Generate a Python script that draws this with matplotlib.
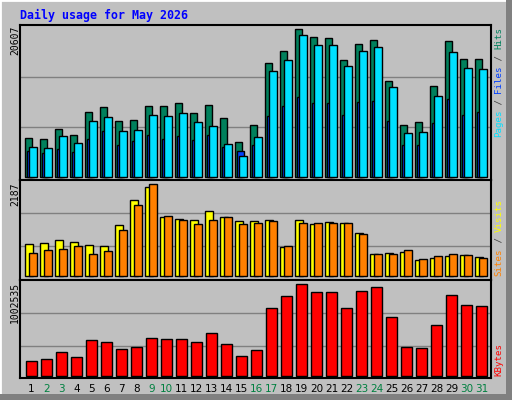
import matplotlib
matplotlib.use("Agg")
import matplotlib.pyplot as plt
from matplotlib.patches import Rectangle

days = [str(d) for d in range(1, 32)]
weekend = [2, 3, 9, 10, 16, 17, 23, 24, 30, 31]
hits = [5362,5222,6622,5782,9002,9702,7742,7882,9842,9842,10262,8862,9982,8162,4802,7182,
        15862,17542,20607,19502,19362,16282,18522,19082,13342,7182,7602,12642,18942,16422,16422]
files = [4102,3962,5642,4662,7742,8302,6342,6482,8582,8442,8862,7602,7042,4522,2842,5502,
         14742,16282,19782,18382,18382,15442,17542,18102,12502,6062,6202,11242,17402,15162,15022]
pages = [3598,3262,3822,3402,5222,6342,4382,4942,5782,5222,5642,5082,5782,4102,3542,4382,
         8442,9842,11102,10262,10262,8582,10402,10542,7742,4382,4382,7462,10822,8582,9002]
k = 2187/276
sites = [round(v*k) for v in [96,99,108,102,93,90,153,228,267,177,171,168,195,177,165,165,
         168,87,168,156,162,159,129,66,69,72,48,54,60,63,57]]
visits = [round(v*k) for v in [69,78,81,90,66,75,138,213,276,180,168,156,168,177,156,159,
          165,90,159,159,159,159,126,66,66,78,51,60,66,63,54]]
kb = 1002535/274
kbytes = [round(v*kb) for v in [43,49,70,55,106,100,79,85,112,109,109,100,127,94,58,76,
          202,238,274,250,250,202,253,265,175,85,82,151,241,211,208]]

W, H = 512, 400
fig = plt.figure(figsize=(W/100, H/100), dpi=100, facecolor="#C0C0C0")
# outer 3D border
fig.patches.append(Rectangle((0, 0), 1, 1, transform=fig.transFigure, fill=False, ec="white", lw=2))
fig.patches.append(Rectangle((506/W, 0), 6/W, 1, transform=fig.transFigure, fc="#808080", ec="none"))
fig.patches.append(Rectangle((0, 0), 1, 6/H, transform=fig.transFigure, fc="#808080", ec="none"))

X0, X1 = 20, 491
SLOT = 15.0
GRID = "#808080"

def panel(top, bottom, base_px, maxval, max_px, grids):
    ax = fig.add_axes([X0/W, 1-bottom/H, (X1-X0)/W, (bottom-top)/H])
    ax.set_facecolor("#C0C0C0")
    upp = maxval / max_px
    ax.set_ylim(-(bottom-base_px)*upp, (base_px-top)*upp)
    ax.set_xlim(0, (X1-X0)/SLOT)
    ax.set_xticks([]); ax.set_yticks([])
    for g in grids:
        ax.axhline(g*upp, color=GRID, lw=1, zorder=0)
    for s in ax.spines.values():
        s.set_color("black"); s.set_linewidth(1.5)
    return ax

def bars(ax, vals, off, wid, color, z):
    x = [i + off/SLOT for i in range(len(vals))]
    ax.bar(x, vals, width=wid/SLOT, align="edge", color=color, edgecolor="black", lw=1, zorder=z)

# top panel
ax1 = panel(25, 180, 176.7, max(hits), 147.3, [50, 100])
bars(ax1, hits, 5, 7, "#00805C", 2)
bars(ax1, pages, 7, 7, "#0040FF", 3)
bars(ax1, files, 9.3, 7.3, "#00E0FF", 4)

ax2 = panel(180, 280, 276.3, max(visits), 92, [30, 63])
bars(ax2, sites, 5, 7.5, "#FFFF00", 2)
bars(ax2, visits, 9, 7.5, "#FF8000", 3)

ax3 = panel(280, 378, 375.7, max(kbytes), 91.3, [29.4, 62.4])
bars(ax3, kbytes, 6, 10.5, "#FF0000", 2)

# title
fig.text(20/W, 1-15/H, "Daily usage for May 2026", color="#0000FF", fontsize=8.4,
         family="DejaVu Sans Mono", fontweight="bold", va="center", ha="left")

# max labels
for txt, top in [(str(max(hits)), 26), (str(max(visits)), 182), (str(max(kbytes)), 282)]:
    fig.text(15/W, 1-top/H, txt, rotation=90, fontsize=7, family="DejaVu Sans Mono",
             ha="center", va="top", color="black")

# right labels, bottom to top
def vstack(parts, y_bottom, x=499):
    cw = 5.5
    y = y_bottom
    for t, c in parts:
        fig.text(x/W, 1-y/H, t, rotation=90, fontsize=6.6, family="DejaVu Sans Mono",
                 color=c, ha="center", va="bottom")
        y -= cw*len(t)

vstack([("Pages", "#00E0FF"), (" / ", "#404040"), ("Files", "#0040FF"), (" / ", "#404040"), ("Hits", "#00805C")], 137)
vstack([("Sites", "#FF8000"), (" / ", "#404040"), ("Visits", "#FFFF00")], 276)
vstack([("KBytes", "#FF0000")], 376)

# day labels
for i, d in enumerate(days):
    c = "#008040" if (i+1) in weekend else "black"
    fig.text((X0 + i*SLOT + 11.5)/W, 1-389/H, d, fontsize=7.5, color=c, ha="center", va="center")

fig.savefig("out.png", dpi=100, facecolor=fig.get_facecolor())
